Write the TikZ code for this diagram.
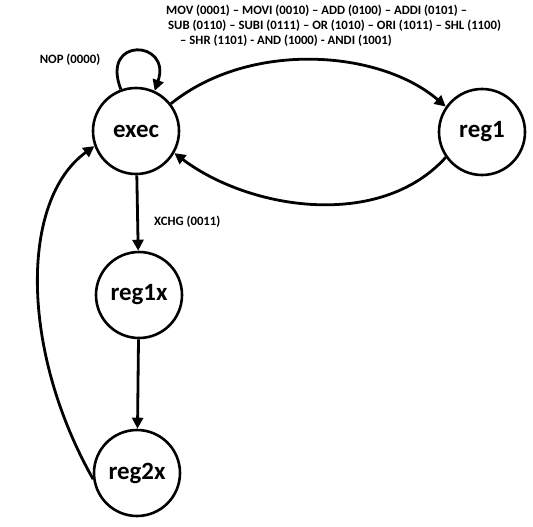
\documentclass[tikz,border=0pt]{standalone}
\usepackage{fontspec}
\setmainfont{Carlito}
\usetikzlibrary{arrows.meta}
\begin{document}
\begin{tikzpicture}[x=1bp,y=-1bp,
  state/.style={circle,draw,line width=2.6bp,minimum size=86bp,inner sep=0pt,font=\bfseries\fontsize{25}{25}\selectfont},
  edge/.style={line width=2.8bp,-{Triangle[length=11bp,width=11bp]}},
  lbl/.style={font=\bfseries\fontsize{12.8}{15}\selectfont,inner sep=0pt}]
\useasboundingbox (0,0) rectangle (533,527);
\node[state] (exec) at (136,131) {exec};
\node[state] (reg1) at (482,132) {reg1};
\node[state] (reg1x) at (139,295) {reg1x};
\node[state] (reg2x) at (137,473) {reg2x};
\draw[edge] (exec.110) .. controls (100,36) and (172,40) .. (exec.65);
\node[lbl] (nop) at (70,60) {NOP (0000)};
\draw[edge] (exec.38) .. controls (250,40) and (380,50) .. (reg1.145);
\draw[edge] (reg1.215) .. controls (380,230) and (250,210) .. (exec.-30);
\node[lbl,align=left,anchor=north west] (ops) at (166,5) {MOV (0001) – MOVI (0010) – ADD (0100) – ADDI (0101) –\\
\hspace{2bp}SUB (0110) – SUBI (0111) – OR (1010) – ORI (1011) – SHL (1100)\\
\hspace{14bp}– SHR (1101) - AND (1000) - ANDI (1001)};
\draw[edge] (exec) -- (reg1x);
\node[lbl,anchor=west] (xchg) at (154,222) {XCHG (0011)};
\draw[edge] (reg1x) -- (reg2x);
\draw[edge] (reg2x.188) .. controls (20,350) and (20,200) .. (exec.200);
\end{tikzpicture}
\end{document}
